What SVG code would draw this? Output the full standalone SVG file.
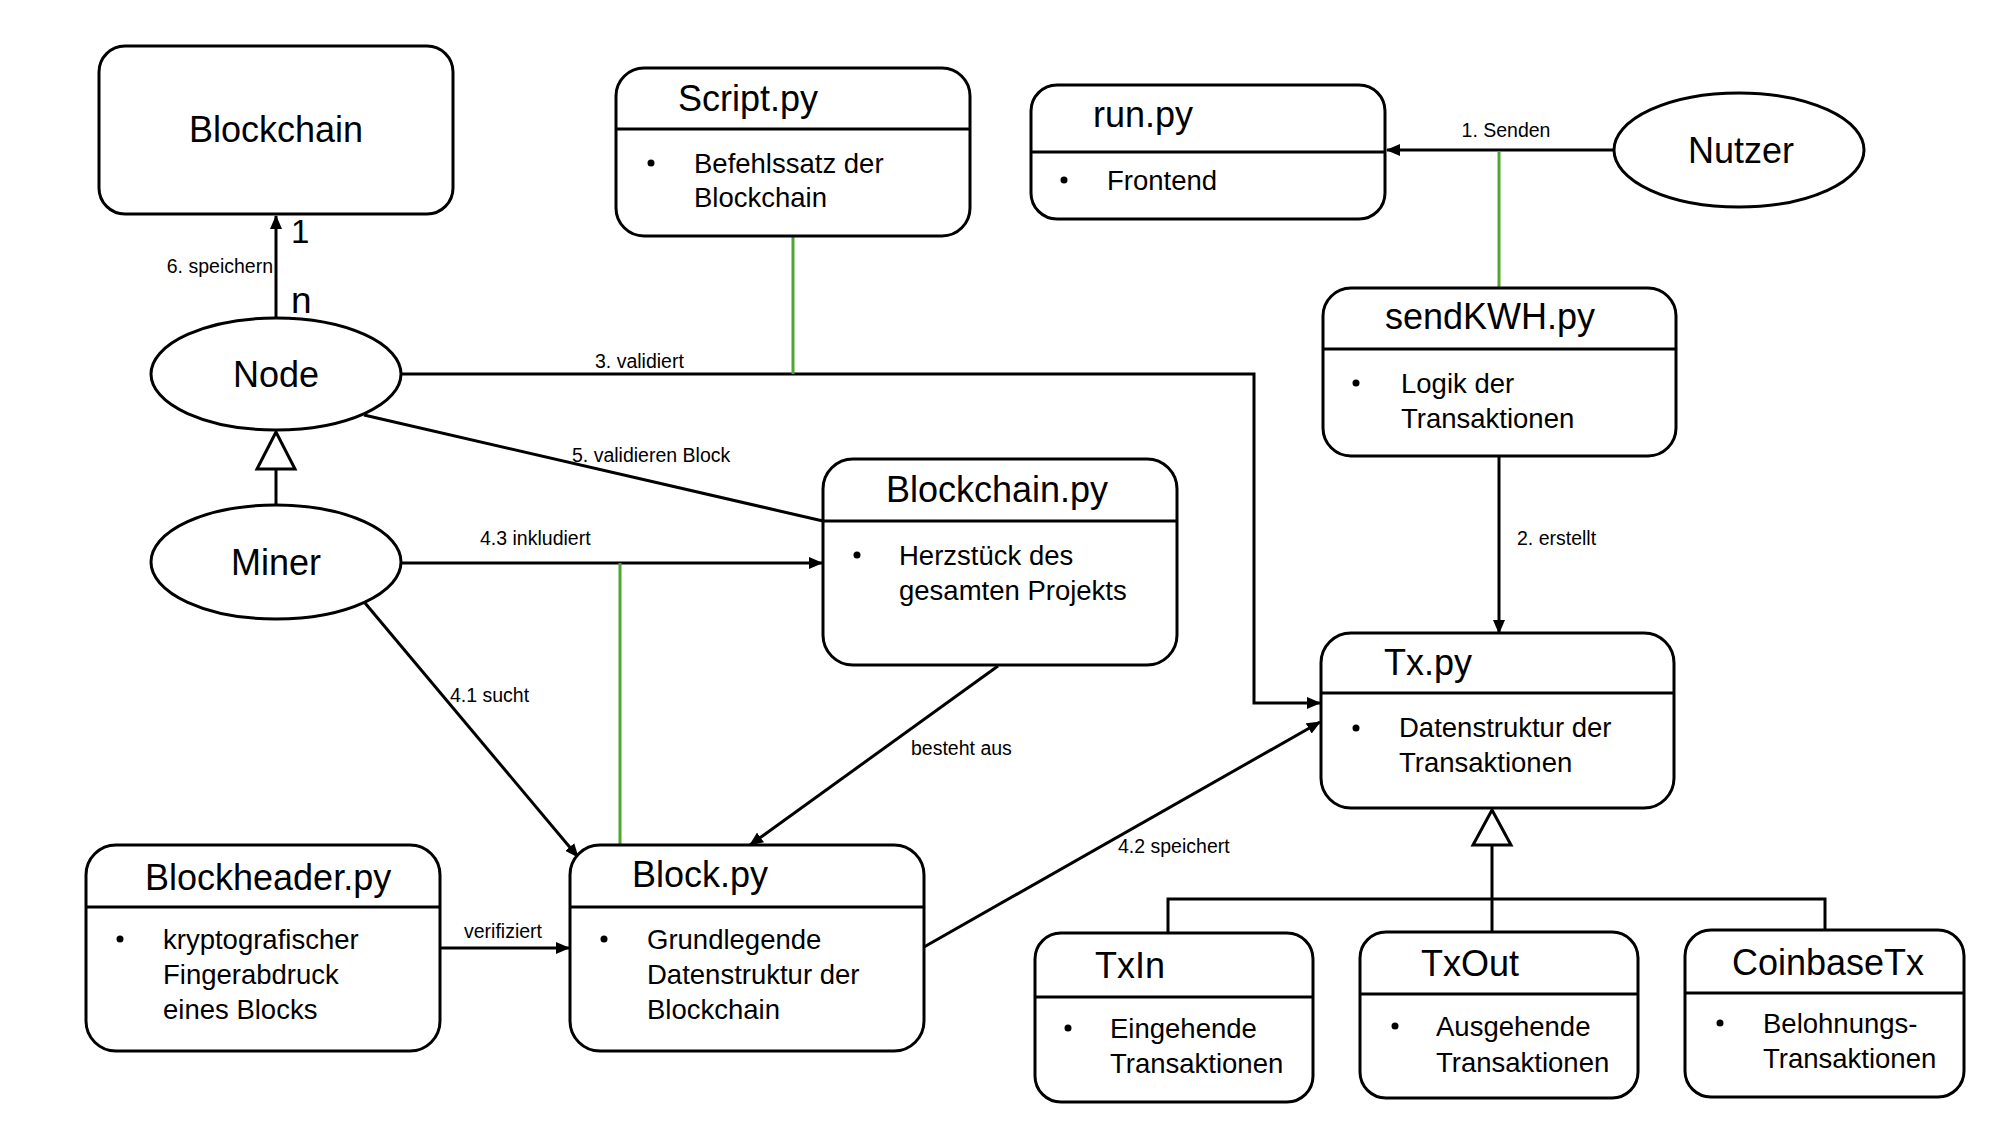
<svg xmlns="http://www.w3.org/2000/svg" width="2000" height="1125" viewBox="0 0 2000 1125">
<style>
.box{fill:#fff;stroke:#000;stroke-width:3}
.div{stroke:#000;stroke-width:3}
.ell{fill:#fff;stroke:#000;stroke-width:3}
.t{font-family:"Liberation Sans",Arial,sans-serif;font-size:36px;fill:#000}
.b{font-family:"Liberation Sans",Arial,sans-serif;font-size:27.5px;fill:#000}
.s{font-family:"Liberation Sans",Arial,sans-serif;font-size:19.5px;fill:#000}
.c{fill:none;stroke:#000;stroke-width:3}
.g{fill:none;stroke:#4EA72E;stroke-width:3}
.inh{fill:#fff;stroke:#000;stroke-width:3}
</style>
<defs>
<marker id="arr" markerUnits="userSpaceOnUse" markerWidth="14" markerHeight="12" refX="13" refY="6" orient="auto">
<path d="M0,0 L14,6 L0,12 z" fill="#000"/>
</marker>
</defs>
<rect width="2000" height="1125" fill="#fff"/>

<g id="connectors">
<line class="c" x1="1614" y1="150" x2="1387" y2="150" marker-end="url(#arr)"/>
<line class="g" x1="1499" y1="152" x2="1499" y2="288"/>
<line class="c" x1="1499" y1="456" x2="1499" y2="633" marker-end="url(#arr)"/>
<line class="c" x1="276" y1="318" x2="276" y2="216" marker-end="url(#arr)"/>
<polyline class="c" points="401,374 1254,374 1254,703 1320,703" marker-end="url(#arr)"/>
<line class="g" x1="793" y1="236" x2="793" y2="374"/>
<line class="c" x1="364" y1="415" x2="823" y2="521"/>
<line class="c" x1="276" y1="469" x2="276" y2="506"/>
<polygon class="inh" points="276,432 257,469 295,469"/>
<line class="c" x1="400" y1="563" x2="822" y2="563" marker-end="url(#arr)"/>
<line class="g" x1="620" y1="563" x2="620" y2="845"/>
<line class="c" x1="365" y1="603" x2="578" y2="857" marker-end="url(#arr)"/>
<line class="c" x1="998" y1="666" x2="750" y2="845" marker-end="url(#arr)"/>
<line class="c" x1="440" y1="948" x2="569" y2="948" marker-end="url(#arr)"/>
<line class="c" x1="924" y1="947" x2="1320" y2="722" marker-end="url(#arr)"/>
<line class="c" x1="1492" y1="845" x2="1492" y2="932"/>
<polyline class="c" points="1168,933 1168,899 1825,899 1825,930"/>
<polygon class="inh" points="1492,810 1473,845 1511,845"/>
<text class="s" x="1506" y="137" text-anchor="middle">1. Senden</text>
<text class="s" x="1517" y="545">2. erstellt</text>
<text class="s" x="273" y="273" text-anchor="end">6. speichern</text>
<text class="t" x="291" y="243" style="font-size:33px">1</text>
<text class="t" x="291" y="313" style="font-size:37px">n</text>
<text class="s" x="595" y="368">3. validiert</text>
<text class="s" x="572" y="462">5. validieren Block</text>
<text class="s" x="480" y="545">4.3 inkludiert</text>
<text class="s" x="450" y="702">4.1 sucht</text>
<text class="s" x="911" y="755">besteht aus</text>
<text class="s" x="1118" y="853">4.2 speichert</text>
<text class="s" x="503" y="938" text-anchor="middle">verifiziert</text>
</g>

<g id="blockchain">
<rect class="box" x="99" y="46" width="354" height="168" rx="26"/>
<text class="t" x="276" y="142" text-anchor="middle">Blockchain</text>
</g>

<g id="node">
<ellipse class="ell" cx="276" cy="374" rx="125" ry="56"/>
<text class="t" x="276" y="387" text-anchor="middle">Node</text>
</g>

<g id="miner">
<ellipse class="ell" cx="276" cy="562" rx="125" ry="57"/>
<text class="t" x="276" y="575" text-anchor="middle">Miner</text>
</g>

<g id="nutzer">
<ellipse class="ell" cx="1739" cy="150" rx="125" ry="57"/>
<text class="t" x="1741" y="163" text-anchor="middle">Nutzer</text>
</g>

<g id="script">
<rect class="box" x="616" y="68" width="354" height="168" rx="28"/>
<line class="div" x1="616" y1="129" x2="970" y2="129"/>
<text class="t" x="678" y="111">Script.py</text>
<circle cx="651" cy="163" r="3.5"/>
<text class="b" x="694" y="173">Befehlssatz der</text>
<text class="b" x="694" y="207">Blockchain</text>
</g>

<g id="run">
<rect class="box" x="1031" y="85" width="354" height="134" rx="26"/>
<line class="div" x1="1031" y1="152" x2="1385" y2="152"/>
<text class="t" x="1093" y="127">run.py</text>
<circle cx="1064" cy="180" r="3.5"/>
<text class="b" x="1107" y="190">Frontend</text>
</g>

<g id="sendkwh">
<rect class="box" x="1323" y="288" width="353" height="168" rx="28"/>
<line class="div" x1="1323" y1="349" x2="1676" y2="349"/>
<text class="t" x="1385" y="329">sendKWH.py</text>
<circle cx="1356" cy="383" r="3.5"/>
<text class="b" x="1401" y="393">Logik der</text>
<text class="b" x="1401" y="428">Transaktionen</text>
</g>

<g id="blockchainpy">
<rect class="box" x="823" y="459" width="354" height="206" rx="30"/>
<line class="div" x1="823" y1="521" x2="1177" y2="521"/>
<text class="t" x="886" y="502">Blockchain.py</text>
<circle cx="857" cy="555" r="3.5"/>
<text class="b" x="899" y="565">Herzstück des</text>
<text class="b" x="899" y="600">gesamten Projekts</text>
</g>

<g id="tx">
<rect class="box" x="1321" y="633" width="353" height="175" rx="30"/>
<line class="div" x1="1321" y1="693" x2="1674" y2="693"/>
<text class="t" x="1384" y="675">Tx.py</text>
<circle cx="1356" cy="728" r="3.5"/>
<text class="b" x="1399" y="737">Datenstruktur der</text>
<text class="b" x="1399" y="772">Transaktionen</text>
</g>

<g id="blockheader">
<rect class="box" x="86" y="845" width="354" height="206" rx="30"/>
<line class="div" x1="86" y1="907" x2="440" y2="907"/>
<text class="t" x="145" y="890">Blockheader.py</text>
<circle cx="120" cy="939" r="3.5"/>
<text class="b" x="163" y="949">kryptografischer</text>
<text class="b" x="163" y="984">Fingerabdruck</text>
<text class="b" x="163" y="1019">eines Blocks</text>
</g>

<g id="block">
<rect class="box" x="570" y="845" width="354" height="206" rx="30"/>
<line class="div" x1="570" y1="907" x2="924" y2="907"/>
<text class="t" x="632" y="887">Block.py</text>
<circle cx="604" cy="939" r="3.5"/>
<text class="b" x="647" y="949">Grundlegende</text>
<text class="b" x="647" y="984">Datenstruktur der</text>
<text class="b" x="647" y="1019">Blockchain</text>
</g>

<g id="txin">
<rect class="box" x="1035" y="933" width="278" height="169" rx="26"/>
<line class="div" x1="1035" y1="997" x2="1313" y2="997"/>
<text class="t" x="1095" y="978">TxIn</text>
<circle cx="1068" cy="1028" r="3.5"/>
<text class="b" x="1110" y="1038">Eingehende</text>
<text class="b" x="1110" y="1073">Transaktionen</text>
</g>

<g id="txout">
<rect class="box" x="1360" y="932" width="278" height="166" rx="26"/>
<line class="div" x1="1360" y1="994" x2="1638" y2="994"/>
<text class="t" x="1421" y="976">TxOut</text>
<circle cx="1395" cy="1026" r="3.5"/>
<text class="b" x="1436" y="1036">Ausgehende</text>
<text class="b" x="1436" y="1072">Transaktionen</text>
</g>

<g id="coinbasetx">
<rect class="box" x="1685" y="930" width="279" height="167" rx="26"/>
<line class="div" x1="1685" y1="993" x2="1964" y2="993"/>
<text class="t" x="1732" y="975">CoinbaseTx</text>
<circle cx="1720" cy="1023" r="3.5"/>
<text class="b" x="1763" y="1033">Belohnungs-</text>
<text class="b" x="1763" y="1068">Transaktionen</text>
</g>
</svg>
